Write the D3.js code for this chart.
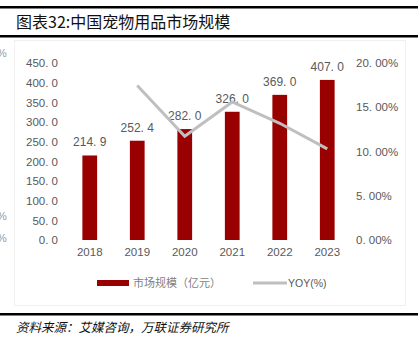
<!DOCTYPE html>
<html>
<head>
<meta charset="utf-8">
<script src="https://cdn.jsdelivr.net/npm/d3@7"></script>
<style>
  body { margin: 0; background: #fff; }
  svg { display: block; }
</style>
</head>
<body>
<div id="chart"></div>
<script>
const years = ['2018', '2019', '2020', '2021', '2022', '2023']
const marketSize = [214.9, 252.4, 282.0, 326.0, 369.0, 407.0]
const yoy = [null, 17.45, 11.73, 15.60, 13.19, 10.30]
const leftTicks = [0, 50, 100, 150, 200, 250, 300, 350, 400, 450]
const rightTicks = [0, 5, 10, 15, 20]

const width = 418, height = 351
const barColor = '#990000', lineColor = '#bfbfbf', textColor = '#595959'
const font = '"Liberation Sans", "Noto Sans CJK SC", sans-serif'
const cjk = '"Noto Sans CJK SC", sans-serif'

const svg = d3.select('#chart').append('svg')
  .attr('width', width)
  .attr('height', height)

// frame lines
svg.append('rect').attr('x', 0).attr('y', 6).attr('width', width).attr('height', 2.5).attr('fill', '#000')
svg.append('rect').attr('x', 0).attr('y', 35).attr('width', width).attr('height', 2.5).attr('fill', '#000')
svg.append('rect').attr('x', 0).attr('y', 313).attr('width', width).attr('height', 2.5).attr('fill', '#000')
// faint chart box
svg.append('rect')
  .attr('x', 14.5).attr('y', 40.5).attr('width', 391).attr('height', 265)
  .attr('fill', 'none').attr('stroke', '#f0f0f0').attr('stroke-width', 1)

// title
svg.append('text')
  .attr('x', 16).attr('y', 28)
  .attr('fill', '#111')
  .style('font-family', cjk)
  .style('font-size', '16px')
  .text('图表32:中国宠物用品市场规模')

// clipped fragments at left edge
for (const y of [57, 220, 242]) {
  svg.append('text').attr('x', -3).attr('y', y)
    .attr('fill', '#9a9a9a').style('font-family', font).style('font-size', '11px').text('%')
}

const x = d3.scaleBand()
  .domain(years)
  .range([66, 351])
  .paddingInner(0.69)
  .paddingOuter(0.345)
const yL = d3.scaleLinear().domain([0, 450]).range([240, 63])
const yR = d3.scaleLinear().domain([0, 20]).range([240, 63])

// left axis
const axisL = svg.append('g')
  .attr('transform', 'translate(58,0)')
  .call(d3.axisLeft(yL).tickValues(leftTicks).tickSize(0).tickPadding(0)
    .tickFormat(d => d3.format('.1f')(d).replace('.', '. ')))
axisL.select('.domain').remove()
axisL.selectAll('text').attr('fill', textColor).style('font-family', font).style('font-size', '11.5px')

// right axis
const axisR = svg.append('g')
  .attr('transform', 'translate(356,0)')
  .call(d3.axisRight(yR).tickValues(rightTicks).tickSize(0).tickPadding(0)
    .tickFormat(d => d3.format('.2f')(d).replace('.', '. ') + '%'))
axisR.select('.domain').remove()
axisR.selectAll('text').attr('fill', textColor).style('font-family', font).style('font-size', '11.5px')

// bottom axis labels
const axisB = svg.append('g')
  .attr('transform', 'translate(0,246)')
  .call(d3.axisBottom(x).tickSize(0).tickPadding(0))
axisB.select('.domain').remove()
axisB.selectAll('text').attr('fill', textColor).attr('dy', '0.9em').style('font-family', font).style('font-size', '11.5px')

// bars
svg.append('g').selectAll('rect').data(years)
  .enter().append('rect')
  .attr('x', d => x(d))
  .attr('y', (d, i) => yL(marketSize[i]))
  .attr('width', x.bandwidth())
  .attr('height', (d, i) => yL(0) - yL(marketSize[i]))
  .attr('fill', barColor)

// bar labels
svg.append('g').selectAll('text').data(years)
  .enter().append('text')
  .attr('x', d => x(d) + x.bandwidth() / 2)
  .attr('y', (d, i) => yL(marketSize[i]) - 9)
  .attr('text-anchor', 'middle')
  .attr('fill', textColor)
  .style('font-family', font)
  .style('font-size', '12px')
  .text((d, i) => d3.format('.1f')(marketSize[i]).replace('.', '. '))

// yoy line
const line = d3.line()
  .defined(d => d[1] !== null)
  .x(d => x(d[0]) + x.bandwidth() / 2)
  .y(d => yR(d[1]))
svg.append('path')
  .datum(years.map((d, i) => [d, yoy[i]]))
  .attr('d', line)
  .attr('fill', 'none')
  .attr('stroke', lineColor)
  .attr('stroke-width', 3)
  .attr('stroke-linejoin', 'miter')

// legend
const lg = svg.append('g')
lg.append('rect').attr('x', 97).attr('y', 280).attr('width', 32).attr('height', 6).attr('fill', barColor)
lg.append('text').attr('x', 133).attr('y', 287)
  .attr('fill', '#7f7f7f').style('font-family', cjk).style('font-size', '11px')
  .text('市场规模（亿元）')
lg.append('line').attr('x1', 253).attr('x2', 287).attr('y1', 283).attr('y2', 283)
  .attr('stroke', lineColor).attr('stroke-width', 3)
lg.append('text').attr('x', 288).attr('y', 287)
  .attr('fill', '#595959').style('font-family', font).style('font-size', '10.5px')
  .text('YOY(%)')

// source
svg.append('text')
  .attr('x', 16).attr('y', 332)
  .attr('fill', '#111')
  .style('font-family', cjk)
  .style('font-size', '12.5px')
  .style('font-style', 'italic')
  .text('资料来源：艾媒咨询，万联证券研究所')
</script>
</body>
</html>
